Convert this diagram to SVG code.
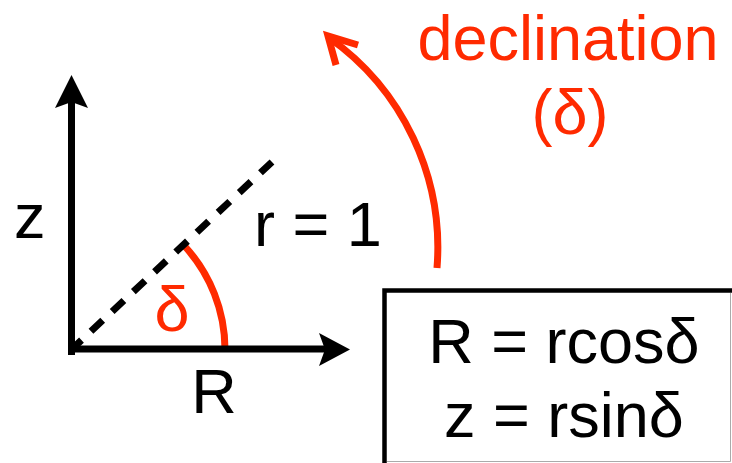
<svg xmlns="http://www.w3.org/2000/svg" width="732" height="463" viewBox="0 0 732 463">
  <style>
    text { font-family: "Liberation Sans", Arial, sans-serif; font-size: 63px; }
    .blk { fill: #000; }
    .red { fill: #FF2A00; }
    .ax { stroke: #000; stroke-width: 7; fill: none; }
    .redline { stroke: #FF2A00; stroke-width: 7; fill: none; }
  </style>
  <rect width="732" height="463" fill="#fff"/>
  <g id="connectors">
    <path id="delta-arc" class="redline" d="M 225 349 A 153 153 0 0 0 184.5 246"/>
    <line id="radius" x1="72" y1="349" x2="272" y2="162" stroke="#000" stroke-width="7" stroke-dasharray="16 13" stroke-dashoffset="3"/>
    <line id="z-axis" class="ax" x1="71.5" y1="355" x2="71.5" y2="100"/>
    <polygon fill="#000" points="71.5,75 88,108 71.5,102 55,108"/>
    <line id="R-axis" class="ax" x1="68" y1="349" x2="326" y2="349"/>
    <polygon fill="#000" points="350,349.5 319,333 325,349.5 319,366"/>
    <g id="declination-arrow">
      <path class="redline" d="M 437 268 A 257 257 0 0 0 328 37"/>
      <polyline class="redline" stroke-linejoin="miter" points="358,45 328,36 336,65"/>
    </g>
  </g>
  <g id="label-z"><text class="blk" x="14" y="238">z</text></g>
  <g id="label-R"><text class="blk" x="214" y="413" text-anchor="middle">R</text></g>
  <g id="label-r"><text class="blk" x="254" y="246">r = 1</text></g>
  <g id="label-delta"><text class="red" x="172" y="331" text-anchor="middle">δ</text></g>
  <g id="label-declination">
    <text class="red" x="568" y="60" text-anchor="middle">declination</text>
    <text class="red" x="570" y="134" text-anchor="middle">(δ)</text>
  </g>
  <g id="formula-box">
    <path d="M 384.5 463 L 384.5 290.5 L 732 290.5" fill="none" stroke="#000" stroke-width="4.5"/>
    <path d="M 730.5 293 L 730.5 461.5 L 387 461.5" fill="none" stroke="#aaa" stroke-width="1"/>
    <text class="blk" x="564" y="363" text-anchor="middle">R = rcosδ</text>
    <text class="blk" x="564" y="437" text-anchor="middle">z = rsinδ</text>
  </g>
</svg>
